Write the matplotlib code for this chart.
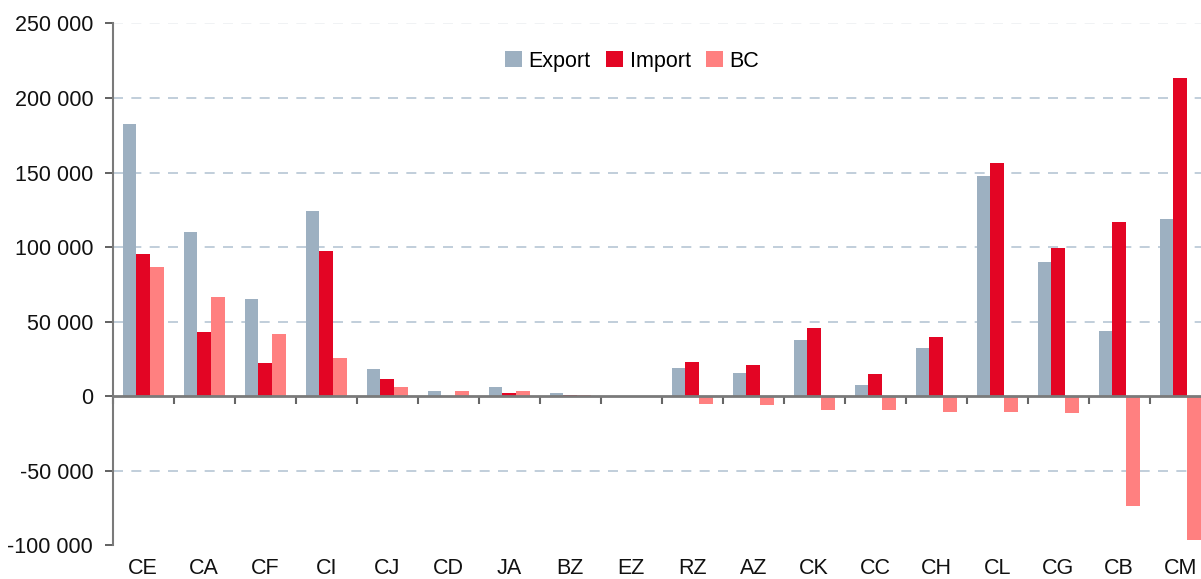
import matplotlib
matplotlib.use("Agg")
import matplotlib.pyplot as plt
import numpy as np
from matplotlib.ticker import FuncFormatter, FixedLocator

categories = ["CE", "CA", "CF", "CI", "CJ", "CD", "JA", "BZ", "EZ", "RZ",
              "AZ", "CK", "CC", "CH", "CL", "CG", "CB", "CM"]
export_vals = [182400, 110000, 65200, 124300, 18500, 3600, 6200, 2200, 0,
               18800, 15400, 38000, 7800, 32600, 148000, 90300, 44000, 119100]
import_vals = [95300, 43300, 22500, 97300, 11800, 0, 2200, 900, 0,
               22800, 20800, 45600, 15200, 40000, 156600, 99700, 117100, 213600]
bc_vals = [86800, 66700, 42000, 25900, 6500, 3600, 3600, 900, 0,
           -5400, -5600, -8900, -8900, -10300, -10300, -10900, -73300, -96000]
series_names = ["Export", "Import", "BC"]
yticks = [-100000, -50000, 0, 50000, 100000, 150000, 200000, 250000]

colors = ["#9db0c1", "#e30524", "#ff8080"]

plt.rcParams['font.family'] = ['Liberation Sans', 'DejaVu Sans']
fig = plt.figure(figsize=(12.01, 5.79), dpi=100)
ax = fig.add_axes([0.0938, 0.0579, 0.9143, 0.9017])

n = len(categories)
x = np.arange(n)
w = 0.225
for i, (vals, name, c) in enumerate(zip([export_vals, import_vals, bc_vals], series_names, colors)):
    ax.bar(x + (i - 1) * w, vals, width=w, color=c, label=name, zorder=3, linewidth=0)

ax.set_xlim(-0.5, n - 0.5)
ax.set_ylim(-100000, 250000)

# gridlines
for v in yticks[1:]:
    if v == 0:
        continue
    col = "#eef0f2" if v == 250000 else "#b6c6d4"
    ax.axhline(v, color=col, linewidth=1.2, linestyle=(0, (6, 5)), zorder=1)

# spines
for s in ["top", "right"]:
    ax.spines[s].set_visible(False)
ax.spines["left"].set_color("#7a7a7a")
ax.spines["left"].set_linewidth(1.5)
ax.spines["bottom"].set_position(("data", 0))
ax.spines["bottom"].set_color("#7a7a7a")
ax.spines["bottom"].set_linewidth(2)
ax.spines["bottom"].set_zorder(4)

# y axis
ax.set_yticks(yticks)
ax.yaxis.set_major_formatter(FuncFormatter(lambda v, p: f"{int(v):,}".replace(",", " ")))
ax.tick_params(axis="y", direction="out", length=6, width=1.3, color="#555555",
               labelsize=15.5, pad=8, labelcolor="#111111")

# x axis: boundary ticks on zero line
ax.xaxis.set_major_locator(FixedLocator(np.arange(n + 1) - 0.5))
ax.tick_params(axis="x", direction="out", length=6, width=1.5, color="#666666",
               labelbottom=False)

# category labels at axes bottom
sec = ax.secondary_xaxis(0.0)
sec.set_xticks(x)
sec.set_xticklabels(categories)
sec.tick_params(axis="x", length=0, labelsize=15.5, pad=9, labelcolor="#111111")
sec.spines["bottom"].set_visible(False)

leg = ax.legend(loc="upper center", bbox_to_anchor=(0.473, 0.985), ncol=3, frameon=False,
                fontsize=15.5, handlelength=0.8, handleheight=0.8, handletextpad=0.3,
                columnspacing=0.7)

fig.savefig("out.png", dpi=100)
